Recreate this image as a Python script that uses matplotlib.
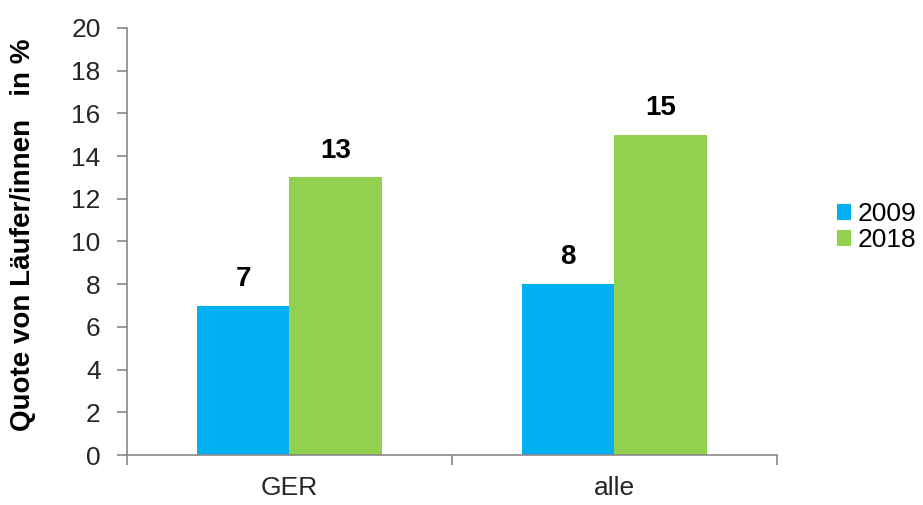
import matplotlib
matplotlib.use('Agg')
import matplotlib.pyplot as plt
import numpy as np

plt.rcParams['font.family'] = ['Liberation Sans', 'DejaVu Sans']

categories = ['GER', 'alle']
series_names = ['2009', '2018']
values_2009 = [7, 8]
values_2018 = [13, 15]
colors = ['#00B0F0', '#92D050']

fig = plt.figure(figsize=(9.23, 5.05), dpi=100)
ax = fig.add_axes([0.1376, 0.099, 0.7042, 0.8456])

x = np.arange(len(categories))
w = 0.286
b1 = ax.bar(x - w/2, values_2009, w, color=colors[0], label=series_names[0])
b2 = ax.bar(x + w/2, values_2018, w, color=colors[1], label=series_names[1])

# Datenbeschriftung
for bars, vals in ((b1, values_2009), (b2, values_2018)):
    for r, v in zip(bars, vals):
        ax.annotate(str(v), (r.get_x() + r.get_width()/2, v), xytext=(0, 10),
                    textcoords='offset points', ha='center', va='bottom',
                    fontsize=20, fontweight='bold', color='black')

ax.set_xlim(-0.5, 1.5)
ax.set_ylim(0, 20)
ax.set_yticks(range(0, 21, 2))
ax.set_xticks(x)
ax.set_xticklabels(categories)
ax.set_xticks([-0.5, 0.5, 1.5], minor=True)
ax.tick_params(axis='x', which='major', length=0, pad=15, labelsize=19, labelcolor='#262626')
ax.tick_params(axis='x', which='minor', length=7, color='#888888', width=1.2)
ax.tick_params(axis='y', length=7, color='#888888', width=1.2, labelsize=19,
               labelcolor='#262626', pad=12)

for s in ['top', 'right']:
    ax.spines[s].set_visible(False)
for s in ['left', 'bottom']:
    ax.spines[s].set_color('#888888')
    ax.spines[s].set_linewidth(1.2)

ax.set_ylabel('Quote von Läufer/innen   in %', fontsize=20, fontweight='bold')
ax.yaxis.set_label_coords(-0.14, 0.515)

leg = ax.legend(loc='center left', bbox_to_anchor=(1.092, 0.533), frameon=False, fontsize=19,
                handlelength=0.53, handleheight=0.53, handletextpad=0.25, labelspacing=0.08,
                borderpad=0, borderaxespad=0)

fig.savefig('out.png', dpi=100)
